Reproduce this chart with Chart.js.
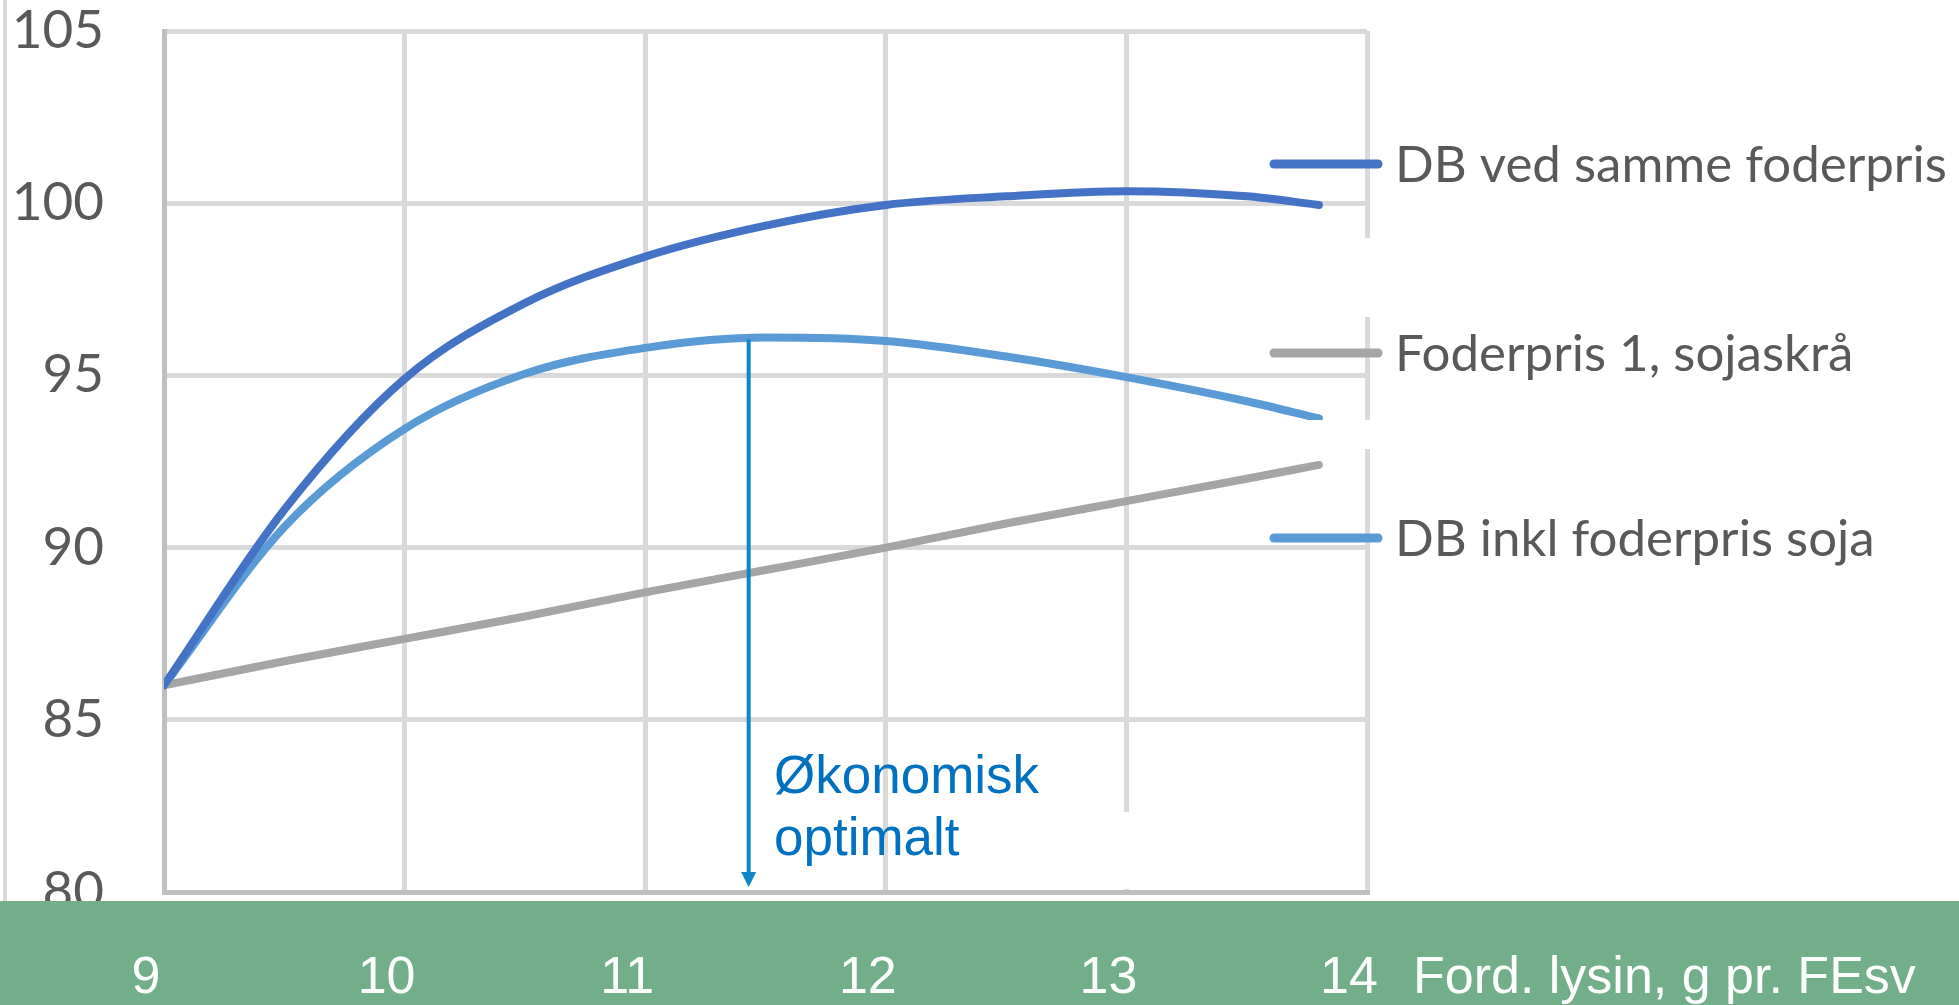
<!DOCTYPE html>
<html>
<head>
<meta charset="utf-8">
<script src="https://cdn.jsdelivr.net/npm/chart.js@4.4.1/dist/chart.umd.min.js"></script>
<style>
  html, body { margin: 0; padding: 0; background: #fff; }
</style>
</head>
<body>
<canvas id="line-chart" width="1959" height="1005"></canvas>
<script>
// lysin level (x) and the three series
var lysin     = [9, 9.5, 10, 10.5, 11, 11.5, 12, 12.5, 13, 13.5, 13.8];
var dbSamme   = [86.0, 91.1, 94.9, 97.1, 98.45, 99.35, 99.95, 100.2, 100.35, 100.2, 99.95];
var foderpris = [86.0, 86.7, 87.35, 88.0, 88.7, 89.35, 90.0, 90.7, 91.35, 92.0, 92.4];
var dbSoja    = [86.0, 90.6, 93.45, 95.05, 95.8, 96.1, 96.0, 95.55, 94.95, 94.25, 93.75];

var xTicks = [9, 10, 11, 12, 13, 14];
var yTicks = [80, 85, 90, 95, 100, 105];

var seriesNames = ['DB ved samme foderpris', 'Foderpris 1, sojaskrå', 'DB inkl foderpris soja'];
var xTitle = 'Ford. lysin, g pr. FEsv';
var noteLines = ['Økonomisk', 'optimalt'];
var optimumX = 11.43;
var optimumY = 96.05;

function pts(ys) {
	var out = [];
	for (var i in lysin) {
		out.push({ x: lysin[i], y: ys[i] });
	}
	return out;
}

var decor = {
	id: 'decor',
	afterDraw: function(chart) {
		var c = chart.ctx;
		var sx = chart.scales.x;
		var sy = chart.scales.y;
		var a = chart.chartArea;
		c.save();

		// white boxes that cut the grid (legend / text boxes in the original)
		c.fillStyle = '#ffffff';
		c.fillRect(a.right - 10, 238, 30, 79);
		c.fillRect(a.right - 90, 420, 110, 29);
		var x13 = sx.getPixelForValue(13);
		c.fillRect(x13 - 6, 812, 12, 77);

		// thin frame line at far left
		c.fillStyle = '#D9D9D9';
		c.fillRect(3, 0, 4, 901);

		// green band under the plot
		c.fillStyle = '#72AE8A';
		c.fillRect(0, 901, chart.width, chart.height - 901);

		// x labels on the band
		c.fillStyle = '#ffffff';
		c.font = '52px "Liberation Sans", Arial, sans-serif';
		c.textBaseline = 'alphabetic';
		c.textAlign = 'center';
		xTicks.forEach(function(t) {
			c.fillText(String(t), sx.getPixelForValue(t) - 18, 993);
		});
		c.textAlign = 'left';
		c.fillText(xTitle, 1413, 993);

		// arrow at the economic optimum
		var px = sx.getPixelForValue(optimumX);
		var top = sy.getPixelForValue(optimumY);
		var bot = a.bottom - 5;
		c.strokeStyle = '#0F86C6';
		c.fillStyle = '#0F86C6';
		c.lineWidth = 4;
		c.beginPath();
		c.moveTo(px, top);
		c.lineTo(px, bot - 12);
		c.stroke();
		c.beginPath();
		c.moveTo(px - 7.5, bot - 15);
		c.lineTo(px + 7.5, bot - 15);
		c.lineTo(px, bot);
		c.closePath();
		c.fill();

		c.fillStyle = '#0070C0';
		c.font = '53px "Liberation Sans", Arial, sans-serif';
		c.fillText(noteLines[0], 774, 793);
		c.fillText(noteLines[1], 774, 855);

		// legend
		var legY = [164, 353, 538];
		c.lineCap = 'round';
		c.lineWidth = 9;
		c.font = '51px Lato, "Open Sans", sans-serif';
		chart.data.datasets.forEach(function(ds, i) {
			c.strokeStyle = ds.borderColor;
			c.beginPath();
			c.moveTo(1274, legY[i]);
			c.lineTo(1378, legY[i]);
			c.stroke();
			c.fillStyle = '#595959';
			c.fillText(ds.label, 1395, legY[i] + 18);
		});

		c.restore();
	}
};

new Chart(document.getElementById('line-chart'), {
	type: 'line',
	data: {
		datasets: [
			{
				label: seriesNames[0],
				data: pts(dbSamme),
				borderColor: '#4472C4',
				borderWidth: 8,
				borderCapStyle: 'round',
				pointRadius: 0,
				cubicInterpolationMode: 'monotone',
				fill: false
			},
			{
				label: seriesNames[1],
				data: pts(foderpris),
				borderColor: '#A5A5A5',
				borderWidth: 8,
				borderCapStyle: 'round',
				pointRadius: 0,
				cubicInterpolationMode: 'monotone',
				fill: false
			},
			{
				label: seriesNames[2],
				data: pts(dbSoja),
				borderColor: '#5B9BD5',
				borderWidth: 8,
				borderCapStyle: 'round',
				pointRadius: 0,
				cubicInterpolationMode: 'monotone',
				fill: false
			}
		]
	},
	options: {
		responsive: false,
		animation: false,
		layout: { padding: { top: 31, right: 592, left: 0, bottom: 0 } },
		plugins: {
			legend: { display: false },
			tooltip: { enabled: false }
		},
		scales: {
			x: {
				type: 'linear',
				min: 9,
				max: 14,
				afterBuildTicks: function(s) {
					s.ticks = xTicks.map(function(v) { return { value: v }; });
				},
				ticks: { display: false },
				grid: {
					color: function(ctx) { return ctx.tick && ctx.tick.value === 9 ? '#BFBFBF' : '#D9D9D9'; },
					lineWidth: 5,
					drawTicks: false
				},
				border: { color: '#BFBFBF', width: 5 },
				afterFit: function(s) { s.height = 113; }
			},
			y: {
				type: 'linear',
				min: 80,
				max: 105,
				afterBuildTicks: function(s) {
					s.ticks = yTicks.map(function(v) { return { value: v }; });
				},
				ticks: {
					padding: 60,
					color: '#595959',
					font: { family: 'Lato, "Open Sans", sans-serif', size: 53, lineHeight: 1 }
				},
				grid: {
					color: function(ctx) { return ctx.tick && ctx.tick.value === 80 ? '#BFBFBF' : '#D9D9D9'; },
					lineWidth: 5,
					drawTicks: false
				},
				border: { color: '#BFBFBF', width: 5 },
				afterFit: function(s) {
					s.width = 164;
					s.paddingTop = 0;
					s.paddingBottom = 0;
				}
			}
		}
	},
	plugins: [decor]
});
</script>
</body>
</html>
